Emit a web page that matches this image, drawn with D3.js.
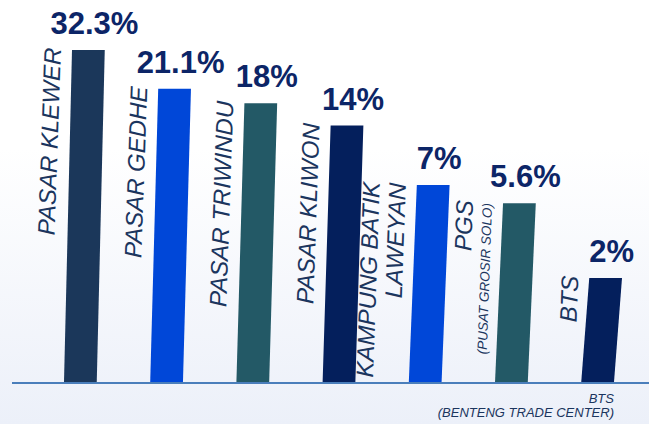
<!DOCTYPE html>
<html>
<head>
<meta charset="utf-8">
<script src="https://cdn.jsdelivr.net/npm/d3@7"></script>
<style>
  html, body { margin: 0; padding: 0; background: #fff; }
  svg { display: block; font-family: "Liberation Sans", Arial, sans-serif; }
</style>
</head>
<body>
<svg id="chart" width="649" height="424"></svg>
<script>
// market share per shopping centre
var categories = ['PASAR KLEWER', 'PASAR GEDHE', 'PASAR TRIWINDU', 'PASAR KLIWON', 'KAMPUNG BATIK LAWEYAN', 'PGS', 'BTS'];
var shares = [32.3, 21.1, 18, 14, 7, 5.6, 2];
var valueLabels = ['32.3%', '21.1%', '18%', '14%', '7%', '5.6%', '2%'];
var labelLines = [['PASAR KLEWER'], ['PASAR GEDHE'], ['PASAR TRIWINDU'], ['PASAR KLIWON'], ['KAMPUNG BATIK', 'LAWEYAN'], ['PGS'], ['BTS']];
var labelNotes = ['', '', '', '', '', '(PUSAT GROSIR SOLO)', ''];
var footnote = ['BTS', '(BENTENG TRADE CENTER)'];

var palette = ['#1b375a', '#0047d8', '#235966', '#041f5c', '#0047d8', '#235966', '#041f5c'];

var svg = d3.select('#chart');
var W = 649, H = 424, baseY = 382;

// soft background fade
var grad = svg.append('defs').append('linearGradient')
  .attr('id', 'bg').attr('x1', 0).attr('y1', 0).attr('x2', 0).attr('y2', 1);
grad.append('stop').attr('offset', '0.35').attr('stop-color', '#ffffff');
grad.append('stop').attr('offset', '1').attr('stop-color', '#ecf0f9');
svg.append('rect').attr('width', W).attr('height', H).attr('fill', 'url(#bg)');

var x = d3.scaleBand().domain(categories).range([64, 614]).paddingInner(0.62);
// bar heights in the original are compressed, symlog follows them closely
var y = d3.scaleSymlog().constant(1).domain([0, d3.max(shares)]).range([baseY, 50]);
var color = d3.scaleOrdinal(categories, palette);

var slant = 8; // tops lean right a little
var data = categories.map((c, i) => ({ name: c, value: shares[i], label: valueLabels[i], lines: labelLines[i], note: labelNotes[i] }));

// bars
svg.append('g').selectAll('polygon')
  .data(data)
  .join('polygon')
  .attr('points', (d) => {
    var x0 = x(d.name), w = x.bandwidth(), t = y(d.value);
    return [[x0, baseY], [x0 + w, baseY], [x0 + w + slant, t], [x0 + slant, t]].join(' ');
  })
  .attr('fill', (d) => color(d.name));

// value labels above bars
svg.append('g').selectAll('text')
  .data(data)
  .join('text')
  .attr('x', (d) => x(d.name) + slant + x.bandwidth() / 2 + 6)
  .attr('y', (d) => y(d.value) - 16)
  .attr('text-anchor', 'middle')
  .attr('font-size', 31)
  .attr('font-weight', 'bold')
  .attr('fill', '#0c2567')
  .text((d) => d.label);

// rotated category labels, sitting just left of each bar
var labelGap = 11, lineStep = 26, noteStep = 19;
var groups = svg.append('g').selectAll('g')
  .data(data)
  .join('g')
  .attr('transform', (d) => 'translate(' + (x(d.name) + slant - labelGap) + ',' + (y(d.value) - 2) + ') rotate(-88)')
  .attr('fill', '#1b355e')
  .attr('font-style', 'italic')
  .attr('text-anchor', 'end');

groups.each(function(d) {
  var g = d3.select(this);
  var extra = d.note ? noteStep : 0;
  var n = d.lines.length;
  d.lines.forEach((line, k) => {
    g.append('text')
      .attr('x', 0)
      .attr('y', -(n - 1 - k) * lineStep - extra)
      .attr('font-size', 24)
      .text(line);
  });
  if (d.note) {
    g.append('text')
      .attr('x', -2)
      .attr('y', 0)
      .attr('font-size', 13.5)
      .text(d.note);
  }
});

// axis line
svg.append('line')
  .attr('x1', 12).attr('x2', W)
  .attr('y1', baseY + 1).attr('y2', baseY + 1)
  .attr('stroke', '#4a7ebb')
  .attr('stroke-width', 2);

// footnote bottom right
svg.append('g').selectAll('text')
  .data(footnote)
  .join('text')
  .attr('x', 614)
  .attr('y', (d, i) => 403 + i * 14)
  .attr('text-anchor', 'end')
  .attr('font-size', 13)
  .attr('font-style', 'italic')
  .attr('fill', '#1b355e')
  .text((d) => d);
</script>
</body>
</html>
